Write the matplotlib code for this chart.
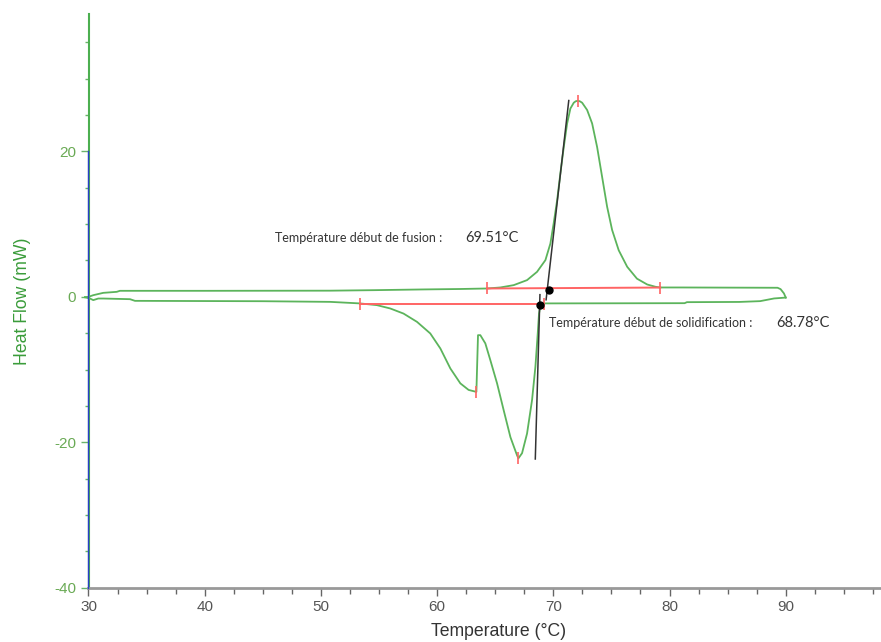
import matplotlib
matplotlib.use('Agg')
import matplotlib.pyplot as plt
from matplotlib.ticker import MultipleLocator

plt.rcParams['axes.unicode_minus'] = False

# Heating run (upper curve): temperature in °C, heat flow in mW
heat_T = [29.7, 30.0, 30.41, 31.27, 32.43, 32.7, 40.0, 50.8, 54.6, 58.84, 62.0,
          64.3, 65.44, 66.59, 67.74, 68.6, 69.32, 69.75, 70.03, 70.33, 70.61,
          70.9, 71.19, 71.47, 71.76, 71.93, 72.1, 72.28, 72.48, 72.91, 73.34,
          73.77, 74.2, 74.63, 75.06, 75.63, 76.36, 77.2, 78.08, 78.8, 79.2,
          80.95, 85.0, 89.3, 89.56, 89.85, 90.0]
heat_mW = [-0.05, 0.0, 0.23, 0.55, 0.69, 0.83, 0.83, 0.85, 0.92, 1.02, 1.08,
           1.15, 1.29, 1.61, 2.3, 3.44, 5.05, 7.34, 10.1, 13.3, 17.0,
           20.6, 23.85, 25.9, 26.7, 26.9, 26.96, 26.9, 26.7, 25.7, 23.85,
           20.6, 16.5, 12.4, 9.2, 6.4, 4.13, 2.5, 1.7, 1.38, 1.29,
           1.29, 1.27, 1.25, 1.06, 0.47, -0.1]

# Cooling run (lower curve)
cool_T = [29.7, 30.13, 30.41, 30.84, 31.27, 33.57, 34.0, 45.0, 50.8, 53.33,
          53.96, 54.82, 55.97, 57.11, 58.27, 59.41, 60.28, 61.14, 62.0, 62.71,
          63.38, 63.52, 63.72, 64.15, 64.58, 65.16, 65.73, 66.31, 66.88, 67.0,
          67.31, 67.74, 68.17, 68.46, 68.66, 68.77, 68.89, 69.17, 69.75, 81.3,
          81.5, 86.0, 87.8, 89.0, 90.0]
cool_mW = [-0.05, -0.23, -0.45, -0.23, -0.23, -0.32, -0.55, -0.6, -0.69, -0.9,
           -1.0, -1.14, -1.6, -2.3, -3.44, -5.03, -7.1, -9.85, -11.9, -12.8,
           -13.07, -5.27, -5.27, -6.4, -8.7, -11.9, -15.6, -19.3, -21.8, -22.2,
           -21.5, -18.8, -14.2, -9.6, -5.03, -2.3, -1.14, -0.9, -0.9, -0.87,
           -0.73, -0.7, -0.59, -0.22, -0.1]

# Integration baselines (red)
fusion_base_T = [64.3, 79.2]
fusion_base_mW = [1.15, 1.28]
solid_base_T = [53.33, 69.17]
solid_base_mW = [-1.0, -1.0]

# Limit / peak markers (red ticks)
mark_T = [64.3, 79.2, 72.1, 53.33, 69.17, 63.38, 67.0]
mark_mW = [1.15, 1.28, 26.9, -1.0, -1.0, -13.05, -22.2]

# Onset tangents and onset points
fusion_tan_T = [69.38, 71.33]
fusion_tan_mW = [-0.4, 27.0]
solid_tan_T = [68.45, 68.85]
solid_tan_mW = [-22.3, 0.3]
onset_T = [69.6, 68.89]
onset_mW = [1.0, -1.14]

onset_labels = ['Température début de fusion :', 'Température début de solidification :']
onset_values = ['69.51°C', '68.78°C']

GREEN = '#5cb45c'
RED = '#ff6464'


def main():
    fig = plt.figure(figsize=(8.81, 6.42), dpi=100)
    ax = fig.add_axes([88.5 / 881, 54.3 / 642, 792.5 / 881, 573.7 / 642])

    ax.plot(heat_T, heat_mW, color=GREEN, lw=1.3, clip_on=False, zorder=3)
    ax.plot(cool_T, cool_mW, color=GREEN, lw=1.3, clip_on=False, zorder=3)

    ax.plot(fusion_base_T, fusion_base_mW, color=RED, lw=1.4, zorder=4)
    ax.plot(solid_base_T, solid_base_mW, color=RED, lw=1.4, zorder=4)
    ax.plot(mark_T, mark_mW, ls='none', marker='|', markersize=9,
            markeredgewidth=1.2, color=RED, zorder=5)

    ax.plot(fusion_tan_T, fusion_tan_mW, color='#333333', lw=1.1, zorder=6)
    ax.plot(solid_tan_T, solid_tan_mW, color='#333333', lw=1.1, zorder=6)
    ax.plot(onset_T, onset_mW, ls='none', marker='o', markersize=5,
            color='black', zorder=7)

    # annotations
    txt = dict(family='Lato', color='#333333', va='center')
    ax.text(46.07, 8.1, onset_labels[0], fontsize=9, **txt)
    ax.text(62.43, 8.1, onset_values[0], fontsize=10.5, **txt)
    ax.text(69.62, -3.66, onset_labels[1], fontsize=9, **txt)
    ax.text(89.19, -3.66, onset_values[1], fontsize=10.5, **txt)

    ax.set_xlim(30, 98.2)
    ax.set_ylim(-40, 38.9)
    ax.xaxis.set_major_locator(MultipleLocator(10))
    ax.xaxis.set_minor_locator(MultipleLocator(2.5))
    ax.yaxis.set_major_locator(MultipleLocator(20))
    ax.yaxis.set_minor_locator(MultipleLocator(5))

    for side in ['top', 'right']:
        ax.spines[side].set_visible(False)
    ax.spines['left'].set_color('#4caf50')
    ax.spines['left'].set_linewidth(1.5)
    ax.spines['bottom'].set_color('#999999')
    ax.spines['bottom'].set_linewidth(2.0)
    # blue overlay on the y axis between -40 and 20
    ax.plot([30, 30], [-40, 20], color='#2a3fc8', lw=1.0, clip_on=False, zorder=8)

    ax.tick_params(axis='x', which='major', length=6, width=1, color='#666666',
                   labelcolor='#555555', labelsize=11, pad=3)
    ax.tick_params(axis='x', which='minor', length=4, width=1, color='#666666')
    ax.tick_params(axis='y', which='major', length=6, width=1, color='#6ab46a',
                   labelcolor='#6aaa55', labelsize=11, pad=3)
    ax.tick_params(axis='y', which='minor', length=3, width=1, color='#6ab46a')

    ax.set_xlabel('Temperature (°C)', fontsize=12.7, color='#333333',
                  family='Liberation Sans')
    ax.xaxis.set_label_coords(0.518, -0.077)
    ax.xaxis.label.set_va('center')
    ax.set_ylabel('Heat Flow (mW)', fontsize=12.7, color='#3a9c3a',
                  family='Liberation Sans')
    ax.yaxis.set_label_coords(-0.083, 0.5)
    ax.yaxis.label.set_va('center')

    for lbl in ax.get_xticklabels() + ax.get_yticklabels():
        lbl.set_family('Liberation Sans')

    fig.savefig('out.png', dpi=100)


if __name__ == '__main__':
    main()
